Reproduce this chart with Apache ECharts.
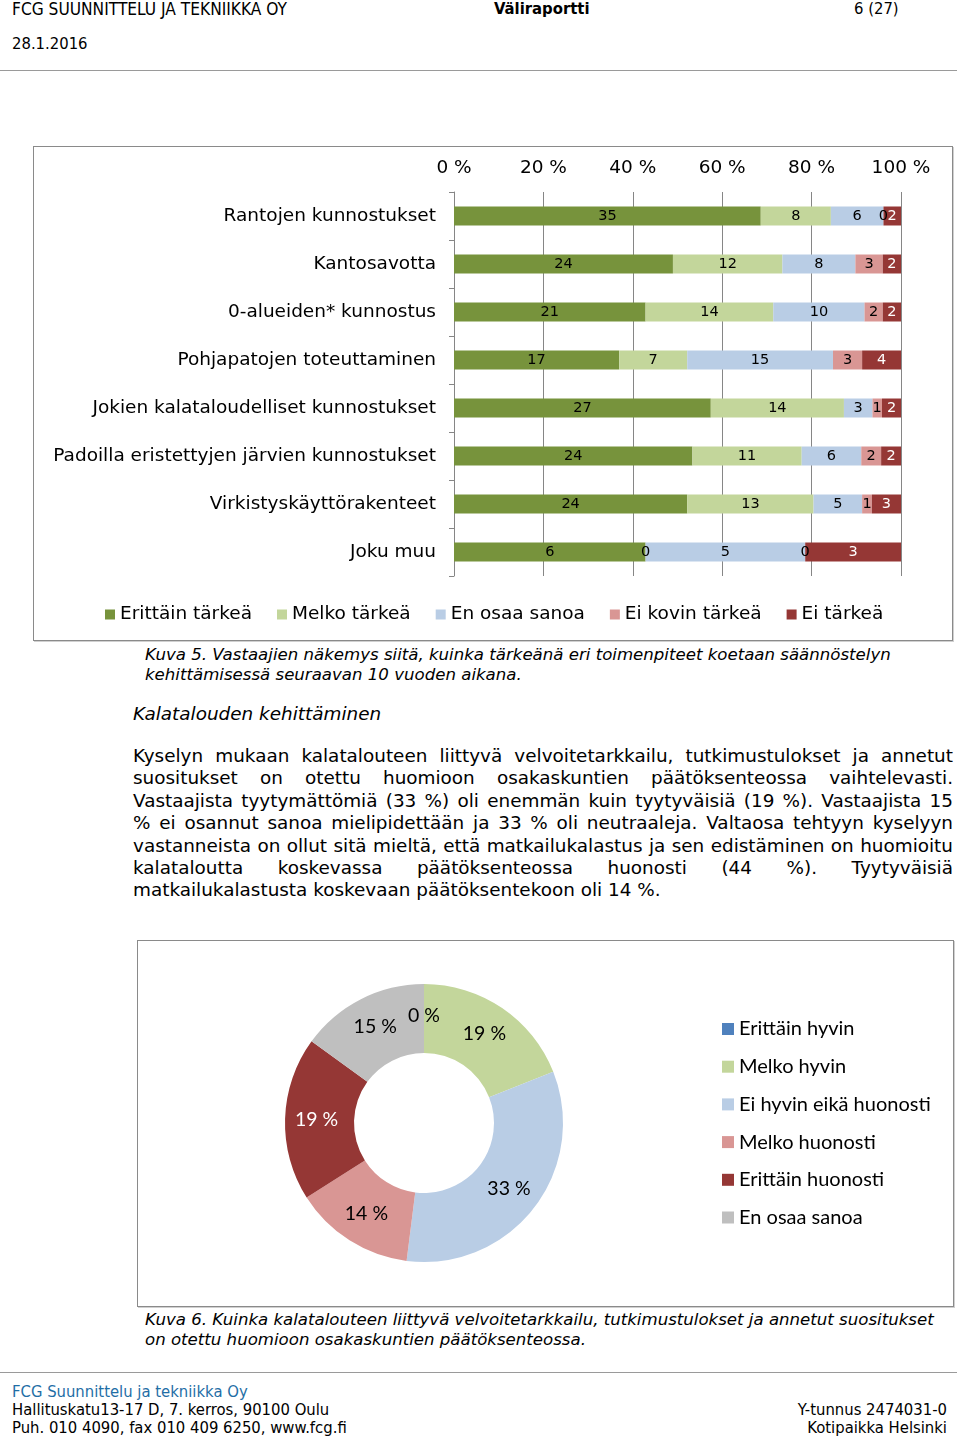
<!DOCTYPE html>
<html>
<head>
<meta charset="utf-8">
<script src="https://cdn.jsdelivr.net/npm/echarts@6/dist/echarts.min.js"></script>
<style>
html,body{margin:0;padding:0;background:#fff;}
#page{position:relative;width:960px;height:1438px;overflow:hidden;font-family:"DejaVu Sans",Verdana,sans-serif;color:#000;}
.abs{position:absolute;white-space:nowrap;}
.hdr{font-family:"DejaVu Sans Condensed","DejaVu Sans",sans-serif;font-size:16.5px;line-height:18px;}
.rule{position:absolute;left:0;width:957px;height:1px;background:#9a9a9a;}
.box{position:absolute;border:1px solid #8a8a8a;box-shadow:1px 1px 0 #d0d0d0;background:#fff;}
.cap{font-family:"DejaVu Sans",sans-serif;font-style:italic;font-size:16.6px;line-height:20px;}
.para div{width:820px;text-align:justify;text-align-last:justify;white-space:nowrap;}
.para div.last{text-align-last:left;}
.para{font-size:18.4px;line-height:22.4px;}
</style>
</head>
<body>
<div id="page">
  <div class="abs hdr" style="left:12px;top:0px;font-size:17.2px;">FCG SUUNNITTELU JA TEKNIIKKA OY</div>
  <div class="abs hdr" style="left:494px;top:0px;font-weight:bold;">Väliraportti</div>
  <div class="abs hdr" style="left:854px;top:0px;">6 (27)</div>
  <div class="abs hdr" style="left:12px;top:35px;">28.1.2016</div>
  <div class="rule" style="top:70px;"></div>

  <div id="c1" class="box" style="left:33px;top:146px;width:918px;height:493px;"></div>

  <div class="abs cap" style="left:145px;top:645px;">Kuva 5. Vastaajien näkemys siitä, kuinka tärkeänä eri toimenpiteet koetaan säännöstelyn<br>kehittämisessä seuraavan 10 vuoden aikana.</div>

  <div class="abs" style="left:133px;top:703px;font-style:italic;font-size:18.4px;line-height:22px;">Kalatalouden kehittäminen</div>

  <div class="abs para" style="left:133px;top:745px;white-space:normal;">
    <div>Kyselyn mukaan kalatalouteen liittyvä velvoitetarkkailu, tutkimustulokset ja annetut</div>
    <div>suositukset on otettu huomioon osakaskuntien päätöksenteossa vaihtelevasti.</div>
    <div>Vastaajista tyytymättömiä (33 %) oli enemmän kuin tyytyväisiä (19 %). Vastaajista 15</div>
    <div>% ei osannut sanoa mielipidettään ja 33 % oli neutraaleja. Valtaosa tehtyyn kyselyyn</div>
    <div>vastanneista on ollut sitä mieltä, että matkailukalastus ja sen edistäminen on huomioitu</div>
    <div>kalataloutta koskevassa päätöksenteossa huonosti (44 %). Tyytyväisiä</div>
    <div class="last">matkailukalastusta koskevaan päätöksentekoon oli 14 %.</div>
  </div>

  <div id="c2" class="box" style="left:137px;top:940px;width:815px;height:365px;"></div>

  <div class="abs cap" style="left:145px;top:1310px;">Kuva 6. Kuinka kalatalouteen liittyvä velvoitetarkkailu, tutkimustulokset ja annetut suositukset<br>on otettu huomioon osakaskuntien päätöksenteossa.</div>

  <div class="rule" style="top:1372px;"></div>
  <div class="abs hdr" style="left:12px;top:1383px;color:#1f6ea6;">FCG Suunnittelu ja tekniikka Oy</div>
  <div class="abs hdr" style="left:12px;top:1401px;">Hallituskatu13-17 D, 7. kerros, 90100 Oulu</div>
  <div class="abs hdr" style="left:12px;top:1419px;">Puh. 010 4090, fax 010 409 6250, www.fcg.fi</div>
  <div class="abs hdr" style="right:13px;top:1401px;text-align:right;">Y-tunnus 2474031-0</div>
  <div class="abs hdr" style="right:13px;top:1419px;text-align:right;">Kotipaikka Helsinki</div>
</div>
<script>
// ---- Chart 1 data ----
const categories = ['Rantojen kunnostukset','Kantosavotta','0-alueiden* kunnostus','Pohjapatojen toteuttaminen','Jokien kalataloudelliset kunnostukset','Padoilla eristettyjen järvien kunnostukset','Virkistyskäyttörakenteet','Joku muu'];
const seriesNames = ['Erittäin tärkeä','Melko tärkeä','En osaa sanoa','Ei kovin tärkeä','Ei tärkeä'];
const erittainTarkea = [35,24,21,17,27,24,24,6];
const melkoTarkea = [8,12,14,7,14,11,13,0];
const enOsaaSanoa = [6,8,10,15,3,6,5,5];
const eiKovinTarkea = [0,3,2,3,1,2,1,0];
const eiTarkea = [2,2,2,4,2,2,3,3];
const xTicks = ['0 %','20 %','40 %','60 %','80 %','100 %'];

// ---- Chart 2 data ----
const pieNames = ['Erittäin hyvin','Melko hyvin','Ei hyvin eikä huonosti','Melko huonosti','Erittäin huonosti','En osaa sanoa'];
const pieValues = [0,19,33,14,19,15];

const barColors = ['#77933c','#c3d69b','#b9cde5','#d99694','#953735'];
const pieColors = ['#4f81bd','#c3d69b','#b9cde5','#d99694','#953735','#bfbfbf'];

const rows = [erittainTarkea, melkoTarkea, enOsaaSanoa, eiKovinTarkea, eiTarkea];
const totals = categories.map((c,i)=>rows.reduce((s,r)=>s+r[i],0));

const c1 = echarts.init(document.getElementById('c1'));
const F1 = '"DejaVu Sans", Verdana, sans-serif';
c1.setOption({
  animation:false,
  textStyle:{fontFamily:F1},
  grid:{left:420,top:45,width:447,height:384,containLabel:false},
  legend:{
    data:seriesNames, top:453, left:66, icon:'rect', itemWidth:10, itemHeight:10, itemGap:25,
    textStyle:{fontSize:18.5,color:'#000',fontFamily:F1}
  },
  xAxis:{
    type:'value', position:'top', min:0, max:100, interval:20,
    axisLabel:{fontSize:18.5,color:'#000',margin:14,formatter:(v)=>xTicks[Math.round(v/20)]},
    axisLine:{show:false}, axisTick:{show:false},
    splitLine:{show:true,lineStyle:{color:'#868686',width:1}}
  },
  yAxis:{
    type:'category', data:categories, inverse:true,
    axisLabel:{fontSize:18.5,color:'#000',margin:18},
    axisLine:{show:true,lineStyle:{color:'#868686'}},
    axisTick:{show:true,length:5,lineStyle:{color:'#868686'}}
  },
  series: rows.map((r,k)=>({
    name:seriesNames[k], type:'bar', stack:'total', barWidth:19,
    itemStyle:{color:barColors[k]},
    label:{show:true,position:'inside',fontSize:14.5,color:k===4?'#fff':'#000',fontFamily:F1,
      formatter:(p)=>String(p.data.raw)},
    data:r.map((v,i)=>({value:v/totals[i]*100, raw:v}))
  }))
});

const c2 = echarts.init(document.getElementById('c2'));
const F2 = 'Lato, "Liberation Sans", sans-serif';
c2.setOption({
  animation:false,
  color:pieColors,
  legend:{
    orient:'vertical', left:579, top:73, icon:'rect', itemWidth:12, itemHeight:12, itemGap:17.7,
    data:pieNames, textStyle:{fontSize:20,color:'#000',fontFamily:F2}
  },
  series:[{
    type:'pie', center:[286,182], radius:[70,139], startAngle:90, clockwise:true,
    label:{show:true,position:'inside',fontSize:19.5,color:'#000',fontFamily:F2,formatter:(p)=>p.value+' %'},
    labelLine:{show:false},
    data:pieNames.map((n,i)=>({name:n,value:pieValues[i],
      label: i===4?{color:'#fff'}:undefined}))
  }]
});
</script>
</body>
</html>
